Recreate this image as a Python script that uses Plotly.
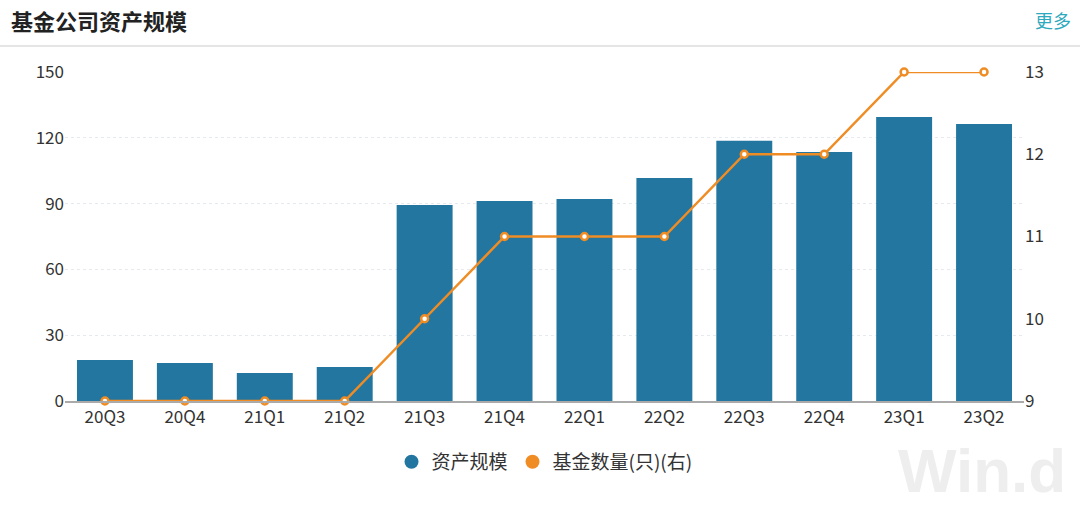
import plotly.graph_objects as go

quarters = ['20Q3', '20Q4', '21Q1', '21Q2', '21Q3', '21Q4',
            '22Q1', '22Q2', '22Q3', '22Q4', '23Q1', '23Q2']
asset_scale = [18.7, 17.3, 12.8, 15.5, 89.4, 91.2,
               92.1, 101.7, 118.6, 113.5, 129.5, 126.3]
fund_count = [9, 9, 9, 9, 10, 11, 11, 11, 12, 12, 13, 13]

BAR_COLOR = '#23769f'
LINE_COLOR = '#f08c24'
FONT = 'Noto Sans CJK SC'

fig = go.Figure()

fig.add_trace(go.Bar(
    x=quarters, y=asset_scale, name='资产规模',
    marker=dict(color=BAR_COLOR, line=dict(width=0)),
    width=0.7, yaxis='y', showlegend=False
))

fig.add_trace(go.Scatter(
    x=quarters, y=fund_count, name='基金数量(只)(右)',
    mode='lines+markers', yaxis='y2', showlegend=False, cliponaxis=False,
    line=dict(color=LINE_COLOR, width=2.5),
    marker=dict(size=7, color='white', line=dict(color=LINE_COLOR, width=2.5))
))

# 图例用圆点
for name, color in [('资产规模', BAR_COLOR), ('基金数量(只)(右)', LINE_COLOR)]:
    fig.add_trace(go.Scatter(x=[None], y=[None], mode='markers', name=name,
                             marker=dict(size=14, color=color, symbol='circle')))

# 标题和"更多"
fig.add_annotation(text='<b>基金公司资产规模</b>', xref='paper', yref='paper',
                   x=-0.058, y=1.158, xanchor='left', yanchor='middle', showarrow=False,
                   font=dict(size=22, color='#222', family=FONT))
fig.add_annotation(text='更多', xref='paper', yref='paper',
                   x=1.051, y=1.158, xanchor='right', yanchor='middle', showarrow=False,
                   font=dict(size=18, color='#2fa9bd', family=FONT))
fig.add_shape(type='line', xref='paper', yref='paper', x0=-0.07, x1=1.06, y0=1.079, y1=1.079,
              line=dict(color='#dddddd', width=1.5))

# 水印
fig.add_annotation(text='<b>Win.d</b>', xref='paper', yref='paper',
                   x=1.046, y=-0.212, xanchor='right', yanchor='middle', showarrow=False,
                   font=dict(size=62, color='#eeeeee', family='Arial'))

fig.update_layout(
    width=1080, height=511,
    margin=dict(l=65, r=56, t=72, b=110),
    plot_bgcolor='white', paper_bgcolor='white',
    font=dict(family=FONT, size=17, color='#333'),
    showlegend=True,
    legend=dict(orientation='h', x=0.5, xanchor='center', y=-0.185, yanchor='middle',
                font=dict(size=19, color='#333', family=FONT), itemwidth=30),
    xaxis=dict(range=[-0.5, 11.5], showline=True, linecolor='#aaaaaa', linewidth=1.5,
               ticks='', automargin=False, tickfont=dict(size=17, color='#333')),
    yaxis=dict(range=[0, 150], tickvals=[0, 30, 60, 90, 120, 150], automargin=False,
               showgrid=True, gridcolor='#e6e9ee', griddash='dot', zeroline=False,
               ticks='', tickfont=dict(size=17, color='#333')),
    yaxis2=dict(range=[9, 13], tickvals=[9, 10, 11, 12, 13], overlaying='y', side='right',
                automargin=False, showgrid=False, zeroline=False,
                tickfont=dict(size=17, color='#333')),
)

fig.write_html('out.html', config={'displayModeBar': False},
               post_script="document.body.style.margin='0';document.body.style.overflow='hidden';")
